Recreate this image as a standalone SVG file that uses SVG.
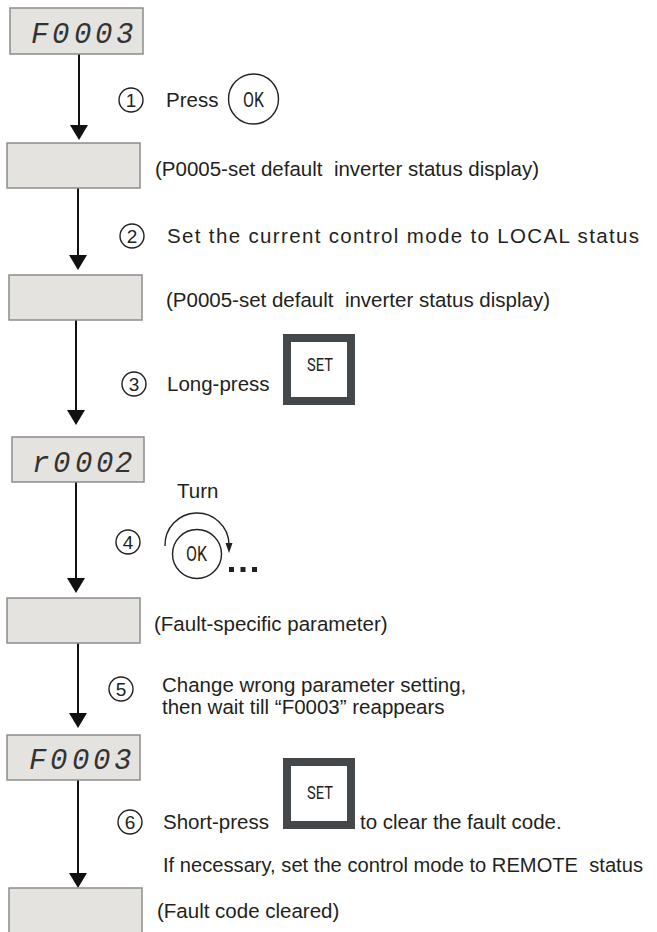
<svg xmlns="http://www.w3.org/2000/svg" width="657" height="932" viewBox="0 0 657 932">
<style>
.box{fill:#e4e3df;stroke:#8c8c8c;stroke-width:1.5}
.t{font-family:"Liberation Sans",Arial,sans-serif;font-size:20.5px;fill:#231f20;white-space:pre}
.num{font-family:"Liberation Sans",Arial,sans-serif;font-size:19px;fill:#231f20;text-anchor:middle}
.ring{fill:none;stroke:#231f20;stroke-width:1.4}
.seg{font-family:"Liberation Mono","DejaVu Sans Mono",monospace;font-style:italic;font-size:29px;fill:#333333}
.key{font-family:Roboto,"Liberation Sans",sans-serif;fill:#231f20;text-anchor:middle}
.setbtn{fill:#ffffff;stroke:#45484b;stroke-width:8}
.conn{stroke:#111;stroke-width:2;fill:none}
</style>
<defs>
<marker id="ah" viewBox="0 0 15 18" refX="7" refY="9" markerWidth="15" markerHeight="18" markerUnits="userSpaceOnUse" orient="auto">
<path d="M0,0 L15,9 L0,18 Z" fill="#111"/>
</marker>
</defs>

<g id="connectors">
<line class="conn" x1="79" y1="54" x2="79" y2="132" marker-end="url(#ah)"/>
<line class="conn" x1="78" y1="188" x2="78" y2="262" marker-end="url(#ah)"/>
<line class="conn" x1="76" y1="320" x2="76" y2="417" marker-end="url(#ah)"/>
<line class="conn" x1="76" y1="482" x2="76" y2="585" marker-end="url(#ah)"/>
<line class="conn" x1="78" y1="643" x2="78" y2="720" marker-end="url(#ah)"/>
<line class="conn" x1="78" y1="780" x2="78" y2="880" marker-end="url(#ah)"/>
</g>

<g id="node1">
<rect class="box" x="10" y="8" width="133" height="46"/>
<text class="seg" x="31 52 74 95 116" y="43">F0003</text>
</g>

<g id="step1">
<circle class="ring" cx="131" cy="100" r="12"/>
<text class="num" x="131" y="107">1</text>
<text class="t" x="166" y="107">Press</text>
<circle class="ring" cx="253.5" cy="99" r="25"/>
<text class="key" x="253.5" y="107" font-size="20" textLength="21" lengthAdjust="spacingAndGlyphs">OK</text>
</g>

<g id="node2">
<rect class="box" x="7" y="143" width="133" height="45"/>
<text class="t" x="155" y="176">(P0005-set default  inverter status display)</text>
</g>

<g id="step2">
<circle class="ring" cx="132" cy="236" r="12"/>
<text class="num" x="132" y="243">2</text>
<text class="t" x="167" y="243" textLength="472" lengthAdjust="spacing">Set the current control mode to LOCAL status</text>
</g>

<g id="node3">
<rect class="box" x="9" y="275" width="133" height="45"/>
<text class="t" x="166" y="307">(P0005-set default  inverter status display)</text>
</g>

<g id="step3">
<circle class="ring" cx="134" cy="384" r="12"/>
<text class="num" x="134" y="391">3</text>
<text class="t" x="167" y="391">Long-press</text>
<rect class="setbtn" x="287" y="338" width="64" height="63"/>
<text class="key" x="320" y="371" font-size="18" textLength="26" lengthAdjust="spacingAndGlyphs">SET</text>
</g>

<g id="node4">
<rect class="box" x="12" y="437" width="132" height="45"/>
<text class="seg" x="32 53 75 96 115" y="472">r0002</text>
</g>

<g id="step4">
<text class="t" x="177" y="498">Turn</text>
<circle class="ring" cx="128" cy="542" r="12"/>
<text class="num" x="128" y="549">4</text>
<path class="ring" d="M165,546 A32,32 0 0 1 229,544"/>
<path d="M225.5,543 L232.5,543 L229,553 Z" fill="#231f20"/>
<circle class="ring" cx="197" cy="554" r="24.5"/>
<text class="key" x="196.5" y="561" font-size="20" textLength="21" lengthAdjust="spacingAndGlyphs">OK</text>
<rect x="229" y="567" width="5" height="5" fill="#231f20"/>
<rect x="240.5" y="567" width="5" height="5" fill="#231f20"/>
<rect x="252" y="567" width="5" height="5" fill="#231f20"/>
</g>

<g id="node5">
<rect class="box" x="7" y="598" width="133" height="45"/>
<text class="t" x="154" y="631">(Fault-specific parameter)</text>
</g>

<g id="step5">
<circle class="ring" cx="121" cy="689" r="12"/>
<text class="num" x="121" y="696">5</text>
<text class="t" x="162" y="692">Change wrong parameter setting,</text>
<text class="t" x="162" y="714">then wait till “F0003” reappears</text>
</g>

<g id="node6">
<rect class="box" x="7" y="735" width="133" height="45"/>
<text class="seg" x="29 50 72 93 114" y="769">F0003</text>
</g>

<g id="step6">
<circle class="ring" cx="130" cy="822" r="12"/>
<text class="num" x="130" y="829">6</text>
<text class="t" x="163" y="829">Short-press</text>
<rect class="setbtn" x="287" y="762" width="64" height="63"/>
<text class="key" x="320" y="799" font-size="18" textLength="26" lengthAdjust="spacingAndGlyphs">SET</text>
<text class="t" x="360" y="829">to clear the fault code.</text>
<text class="t" x="163" y="872" textLength="480" lengthAdjust="spacingAndGlyphs">If necessary, set the control mode to REMOTE  status</text>
</g>

<g id="node7">
<rect class="box" x="9" y="888" width="133" height="46"/>
<text class="t" x="157" y="918">(Fault code cleared)</text>
</g>
</svg>
